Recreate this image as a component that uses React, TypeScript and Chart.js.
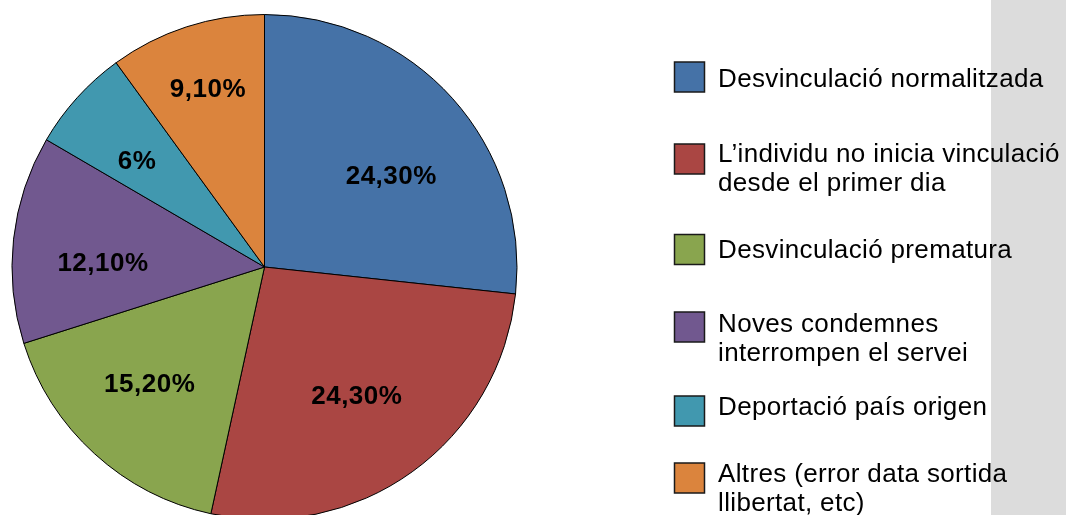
import React, { useEffect, useRef } from "react";
import { Chart, registerables } from "chart.js";

Chart.register(...registerables);

// ---- data ----
const categories: string[][] = [
  ["Desvinculació normalitzada"],
  ["L’individu no inicia vinculació", "desde el primer dia"],
  ["Desvinculació prematura"],
  ["Noves condemnes", "interrompen el servei"],
  ["Deportació país origen"],
  ["Altres (error data sortida", "llibertat, etc)"],
];
const values: number[] = [24.3, 24.3, 15.2, 12.1, 6, 9.1];
const colors: string[] = ["#4572A7", "#AA4643", "#89A54E", "#71588F", "#4198AF", "#DB843D"];

// ---- style / layout (not data) ----
const FONT = '"Liberation Sans", Arial, Helvetica, sans-serif';
const labelRadiusFactor = [0.62, 0.625, 0.645, 0.64, 0.66, 0.745];
const labelAngleNudgeDeg = [6, 0, 2.5, -4.5, -2, 0.5];
const legendBaselines = [87, 162, 258, 331.5, 415, 481.5];
const legendBoxTops = [62, 144, 234.5, 312, 396, 463];
const legendLineHeight = 29;

const fmt = (v: number) =>
  Number.isInteger(v) ? `${v}%` : `${v.toFixed(2).replace(".", ",")}%`;

const decorPlugin = {
  id: "decor",
  beforeDraw(chart: any) {
    const { ctx, width, height } = chart;
    ctx.save();
    ctx.fillStyle = "#ffffff";
    ctx.fillRect(0, 0, width, height);
    ctx.fillStyle = "#dcdcdc";
    ctx.fillRect(991, 0, width - 991, height);
    ctx.restore();
  },
  afterDatasetsDraw(chart: any) {
    const { ctx } = chart;
    const meta = chart.getDatasetMeta(0);
    ctx.save();
    ctx.font = `bold 26px ${FONT}`;
    (ctx as any).letterSpacing = "0.5px";
    ctx.fillStyle = "#000";
    ctx.textAlign = "center";
    ctx.textBaseline = "alphabetic";
    meta.data.forEach((arc: any, i: number) => {
      const p = arc.getProps(["x", "y", "startAngle", "endAngle", "outerRadius"], true);
      const mid = (p.startAngle + p.endAngle) / 2 + (labelAngleNudgeDeg[i] * Math.PI) / 180;
      const r = p.outerRadius * labelRadiusFactor[i];
      const cx = p.x + Math.cos(mid) * r;
      const cy = p.y + Math.sin(mid) * r;
      ctx.fillText(fmt(values[i]), cx, cy + 26 * 0.358);
    });
    ctx.restore();
  },
  afterDraw(chart: any) {
    const { ctx } = chart;
    ctx.save();
    categories.forEach((lines, i) => {
      const bx = 674.5;
      const by = legendBoxTops[i];
      ctx.fillStyle = colors[i];
      ctx.fillRect(bx, by, 30, 30);
      ctx.strokeStyle = "#1a1a1a";
      ctx.lineWidth = 1.5;
      ctx.strokeRect(bx, by, 30, 30);
      ctx.fillStyle = "#000";
      ctx.font = `26px ${FONT}`;
      (ctx as any).letterSpacing = "0.35px";
      ctx.textAlign = "left";
      ctx.textBaseline = "alphabetic";
      lines.forEach((ln, j) => {
        ctx.fillText(ln, 718, legendBaselines[i] + j * legendLineHeight);
      });
    });
    ctx.restore();
  },
};

export default function App() {
  const ref = useRef<HTMLCanvasElement | null>(null);
  useEffect(() => {
    document.body.style.margin = "0";
    const chart = new Chart(ref.current as HTMLCanvasElement, {
      type: "pie",
      data: {
        labels: categories.map((c) => c.join(" ")),
        datasets: [
          {
            data: values,
            backgroundColor: colors,
            borderColor: "#000000",
            borderWidth: 1,
            clip: false as any,
          },
        ],
      },
      options: {
        animation: false,
        responsive: false,
        radius: 252.5 as any,
        layout: { padding: { left: 12, right: 549, top: 19, bottom: 0 } },
        plugins: {
          legend: { display: false },
          tooltip: { enabled: false },
        },
      } as any,
      plugins: [decorPlugin],
    });
    return () => chart.destroy();
  }, []);
  return (
    <div style={{ position: "absolute", left: 0, top: 0, width: 1066, height: 515 }}>
      <canvas ref={ref} width={1066} height={515} style={{ display: "block" }} />
    </div>
  );
}
